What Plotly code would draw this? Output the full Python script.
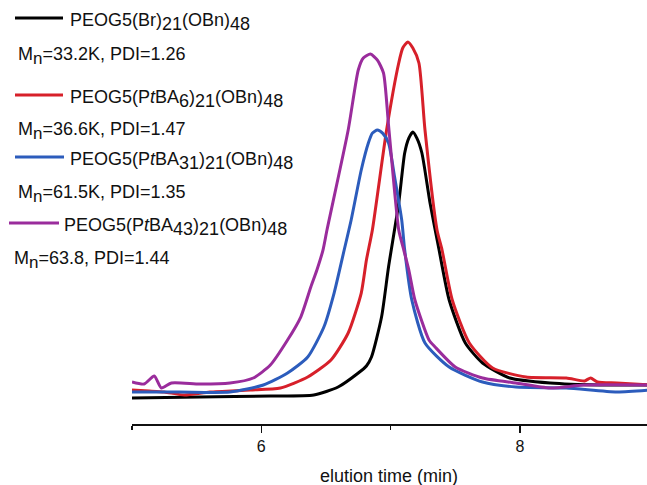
import plotly.graph_objects as go

# ---- data (elution time in min, detector response in arbitrary units) ----
black_t = [5.000, 5.523, 6.070, 6.406, 6.594, 6.750, 6.813, 6.852, 6.930, 6.984, 7.063, 7.109, 7.141, 7.172, 7.203,
           7.242, 7.305, 7.375, 7.453, 7.578, 7.711, 7.922, 8.234, 8.625, 9.016]
black_y = [0.0, 0.28, 0.56, 0.84, 3.09, 7.02, 9.0, 11.52, 22.75, 36.80, 54.78, 68.82, 73.0, 74.72, 73.0,
           68.82, 54.78, 41.57, 27.53, 15.45, 9.83, 5.62, 4.21, 3.65, 3.65]

red_t = [5.000, 5.133, 5.250, 5.406, 5.602, 5.914, 6.148, 6.359, 6.539, 6.672, 6.773, 6.813, 6.859, 6.969, 7.063,
         7.094, 7.133, 7.172, 7.219, 7.266, 7.359, 7.398, 7.477, 7.609, 7.789, 8.047, 8.359, 8.500, 8.547, 8.600,
         8.750, 9.016]
red_y = [2.25, 1.97, 1.69, 0.84, 1.69, 2.25, 2.81, 5.90, 10.67, 18.26, 29.49, 38.76, 47.19, 75.28, 94.10,
         98.3, 100.0, 98.3, 94.10, 75.28, 47.19, 41.57, 27.53, 15.45, 8.43, 5.90, 5.62, 4.80, 5.62, 4.50,
         4.21, 3.65]

blue_t = [5.000, 5.367, 5.758, 6.016, 6.203, 6.359, 6.484, 6.563, 6.641, 6.695, 6.773, 6.828, 6.859, 6.898, 6.938,
          6.984, 7.031, 7.086, 7.109, 7.164, 7.266, 7.453, 7.711, 7.969, 8.359, 8.750, 9.016]
blue_y = [1.69, 1.69, 1.69, 3.65, 7.02, 11.52, 19.94, 29.49, 41.57, 50.00, 64.05, 71.63, 74.4, 75.28, 74.4,
          71.63, 62.08, 50.00, 41.57, 27.53, 15.45, 8.71, 4.49, 3.09, 2.81, 1.69, 2.25]

purple_t = [5.000, 5.094, 5.172, 5.227, 5.305, 5.523, 5.758, 5.938, 6.070, 6.203, 6.305, 6.383, 6.430, 6.477, 6.508,
            6.672, 6.750, 6.789, 6.844, 6.898, 6.945, 6.984, 7.063, 7.102, 7.141, 7.188, 7.297, 7.344, 7.500,
            7.711, 7.969, 8.234, 8.492, 9.016]
purple_y = [4.49, 3.93, 6.18, 2.81, 4.21, 3.93, 4.21, 5.62, 9.27, 16.29, 22.75, 31.18, 35.96, 41.57, 47.19,
            75.28, 92.14, 95.5, 96.63, 94.9, 91.29, 76.68, 47.19, 41.57, 35.96, 27.53, 16.29, 14.33, 8.71,
            5.62, 4.21, 2.81, 3.65, 3.65]

SUB = '<sub><span style="font-size:{}px">{}</span></sub>'
series_names = [
    "PEOG5(Br)" + SUB.format(18, "21") + "(OBn)" + SUB.format(18, "48"),
    "PEOG5(P<i>t</i>BA" + SUB.format(18, "6") + ")" + SUB.format(18, "21") + "(OBn)" + SUB.format(18, "48"),
    "PEOG5(P<i>t</i>BA" + SUB.format(18, "31") + ")" + SUB.format(18, "21") + "(OBn)" + SUB.format(18, "48"),
    "PEOG5(P<i>t</i>BA" + SUB.format(18, "43") + ")" + SUB.format(18, "21") + "(OBn)" + SUB.format(18, "48"),
]
series_info = [
    "M" + SUB.format(17, "n") + "=33.2K, PDI=1.26",
    "M" + SUB.format(17, "n") + "=36.6K, PDI=1.47",
    "M" + SUB.format(17, "n") + "=61.5K, PDI=1.35",
    "M" + SUB.format(17, "n") + "=63.8, PDI=1.44",
]
x_ticks = [6, 8]
x_title = "elution time (min)"

colors = ["#000000", "#d7202a", "#2c5cbc", "#9a2c9c"]

W, H = 647, 485
FONT = "Liberation Sans, Arial, sans-serif"


def px(x):
    return x / W


def py(y):
    return 1 - y / H


fig = go.Figure()
for t, y, c, n in zip([black_t, red_t, blue_t, purple_t], [black_y, red_y, blue_y, purple_y], colors, series_names):
    fig.add_trace(go.Scatter(x=t, y=y, mode="lines", name=n,
                             line=dict(color=c, width=3, shape="spline", smoothing=0.6),
                             showlegend=False, hoverinfo="skip"))

leg_line = [(15, 63, 18), (15, 63, 95), (15, 64, 157), (9, 59, 223)]
leg_text_x = [68, 68, 68, 62]
info_pos = [(16, 53), (16, 128), (16, 191), (12, 257)]
shapes = []
annotations = []
for i in range(4):
    x0, x1, yy = leg_line[i]
    shapes.append(dict(type="line", xref="paper", yref="paper", x0=px(x0), x1=px(x1),
                       y0=py(yy), y1=py(yy), line=dict(color=colors[i], width=3)))
    annotations.append(dict(xref="paper", yref="paper", x=px(leg_text_x[i]), y=py(yy + 4),
                            text=series_names[i], showarrow=False, xanchor="left", yanchor="middle",
                            font=dict(family=FONT, size=18, color="#111111")))
    ix, iy = info_pos[i]
    annotations.append(dict(xref="paper", yref="paper", x=px(ix), y=py(iy + 3),
                            text=series_info[i], showarrow=False, xanchor="left", yanchor="middle",
                            font=dict(family=FONT, size=18, color="#111111")))

# x-axis title placed as annotation centred under the axis
annotations.append(dict(xref="paper", yref="paper", x=px((132 + 647) / 2), y=py(476),
                        text=x_title, showarrow=False, xanchor="center", yanchor="middle",
                        font=dict(family=FONT, size=18, color="#111111")))

fig.update_layout(
    width=W, height=H,
    margin=dict(l=0, r=0, t=0, b=0),
    paper_bgcolor="white", plot_bgcolor="white",
    showlegend=False,
    shapes=shapes, annotations=annotations,
    xaxis=dict(domain=[px(132), 1], range=[5, 8.983], showgrid=False, zeroline=False,
               showline=True, linecolor="#111111", linewidth=1.5,
               tickmode="array", tickvals=x_ticks, ticks="outside", ticklen=7, tickwidth=1.5,
               tickcolor="#111111",
               minor=dict(dtick=1, tick0=5, ticks="outside", ticklen=4, tickwidth=1.5, tickcolor="#111111"),
               tickfont=dict(family=FONT, size=16, color="#111111")),
    yaxis=dict(domain=[py(424), 1], range=[-7.30, 111.8], visible=False),
)

fig.write_html(
    "out.html",
    config={"displayModeBar": False, "staticPlot": True},
    post_script="document.body.style.margin='0';document.body.style.padding='0';"
                "document.documentElement.style.overflow='hidden';document.body.style.overflow='hidden';",
)
